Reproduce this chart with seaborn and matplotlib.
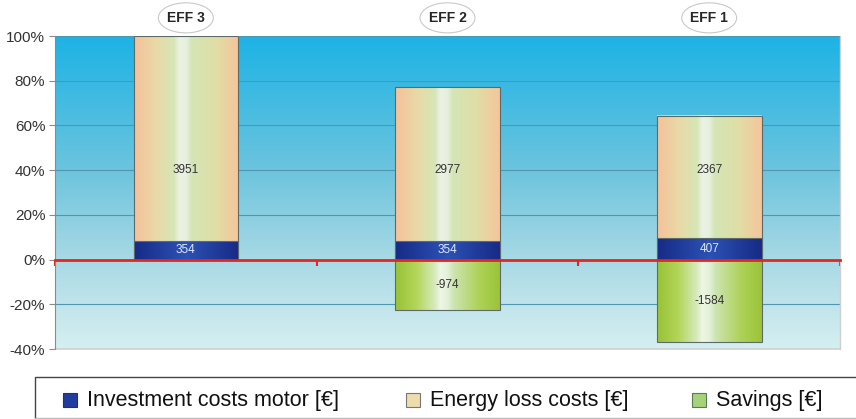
import numpy as np
import pandas as pd
import matplotlib
matplotlib.use("Agg")
import matplotlib.pyplot as plt
import matplotlib.transforms as mtransforms
import seaborn as sns
from matplotlib.colors import LinearSegmentedColormap
from matplotlib.patches import Ellipse, Rectangle
from matplotlib.ticker import FixedLocator

# Cost comparison of motor efficiency classes
categories = ["EFF 3", "EFF 2", "EFF 1"]
investment = [354, 354, 407]
energy_loss = [3951, 2977, 2367]
savings = [0, -974, -1584]
y_ticks = [-40, -20, 0, 20, 40, 60, 80, 100]
legend_labels = ["Investment costs motor [€]", "Energy loss costs [€]", "Savings [€]"]

# Everything is expressed relative to the total cost of the EFF 3 motor
reference_total = investment[0] + energy_loss[0]


def pct(values):
    return [100.0 * v / reference_total for v in values]


df = pd.DataFrame({
    "category": categories,
    "investment": pct(investment),
    "total": pct(np.add(investment, energy_loss)),
    "savings": pct(savings),
})

sns.set_theme(style="white")
plt.rcParams["font.family"] = ["Liberation Sans", "DejaVu Sans"]

W, H = 856, 419
fig = plt.figure(figsize=(W / 100, H / 100), dpi=100)
ax = fig.add_axes([55 / W, 70 / H, 785 / W, 313 / H])


def ramp(stops, n=256):
    cmap = LinearSegmentedColormap.from_list("r", stops)
    return cmap(np.linspace(0, 1, n))[:, :3]


fills = {
    "total": ramp([(0, "#f5c29a"), (0.22, "#e8daa8"), (0.38, "#d6e6b6"), (0.43, "#ebf2e4"),
                   (0.5, "#e7f0de"), (0.55, "#d4e5b6"), (0.78, "#e0dea6"), (1, "#f6c59b")]),
    "investment": ramp([(0, "#172a86"), (0.5, "#2c52b4"), (1, "#172a86")]),
    "savings": ramp([(0, "#98c236"), (0.2, "#b2d558"), (0.38, "#d6eabd"), (0.43, "#eef6e6"),
                     (0.5, "#e4f1d9"), (0.56, "#cde4b0"), (0.8, "#aed258"), (1, "#9ac438")]),
}
layer_z = {"total": 2, "investment": 3, "savings": 2}

BAR_W = 0.4
for col in ["total", "investment", "savings"]:
    n_before = len(ax.patches)
    sns.barplot(data=df, x="category", y=col, order=categories, width=BAR_W,
                color="white", errorbar=None, ax=ax)
    for rect in ax.patches[n_before:]:
        h = rect.get_height()
        if h == 0:
            rect.set_visible(False)
            continue
        x0, w, y0 = rect.get_x(), rect.get_width(), rect.get_y()
        lo, hi = min(y0, y0 + h), max(y0, y0 + h)
        z = layer_z[col]
        ax.imshow(fills[col][np.newaxis, :, :], extent=[x0, x0 + w, lo, hi],
                  aspect="auto", interpolation="bilinear", zorder=z)
        rect.set_facecolor("none")
        rect.set_edgecolor("#5e6a6a")
        rect.set_linewidth(0.8)
        rect.set_zorder(z + 0.1)

# Sky-like background of the plot area
bg = ramp([(0, "#d6eff1"), (0.286, "#a8d9e5"), (0.571, "#6cc4de"), (1, "#1cb3e5")])
ax.imshow(bg[:, np.newaxis, :], extent=[-0.5, 2.5, -40, 100], origin="lower",
          aspect="auto", interpolation="bilinear", zorder=0)
ax.set_xlim(-0.5, 2.5)
ax.set_ylim(-40, 100)

ax.set_axisbelow(True)
ax.yaxis.grid(True, color="#4f97ae", lw=0.8, zorder=0.5)
ax.xaxis.grid(False)

ax.set_yticks(y_ticks)
ax.set_yticklabels([f"{t}%" for t in y_ticks])
ax.tick_params(axis="y", length=4, width=0.8, color="#8a8a8a", labelsize=11,
               labelcolor="#333333", pad=3, left=True)
ax.set_xlabel("")
ax.set_ylabel("")

# Red zero line with category separators
red = "#e5261e"
ax.spines["bottom"].set_position(("data", 0))
ax.spines["bottom"].set_color(red)
ax.spines["bottom"].set_linewidth(2)
ax.spines["bottom"].set_zorder(4)
ax.xaxis.set_minor_locator(FixedLocator([-0.5, 0.5, 1.5, 2.5]))
ax.tick_params(axis="x", which="major", length=0, labelbottom=False)
ax.tick_params(axis="x", which="minor", length=4, width=1.5, color=red,
               direction="out", bottom=True)
ax.spines["left"].set_color("#8a8a8a")
ax.spines["left"].set_linewidth(0.8)
ax.spines["top"].set_visible(False)
ax.spines["right"].set_color("#cfcfcf")
ax.spines["right"].set_linewidth(1)
ax.plot([0, 1], [0, 0], transform=ax.transAxes, color="#cfcfcf", lw=1.2,
        clip_on=False, zorder=1)

# Value labels
for i in range(len(categories)):
    ax.text(i, 40, f"{energy_loss[i]}", ha="center", va="center", fontsize=8.5,
            color="#333333", zorder=5)
    ax.text(i, df["investment"][i] / 2, f"{investment[i]}", ha="center", va="center",
            fontsize=8.5, color="#dfe8ff", zorder=5)
    if savings[i] != 0:
        ax.text(i, df["savings"][i] / 2, f"{savings[i]}", ha="center", va="center",
                fontsize=8.5, color="#333333", zorder=5)

# Efficiency class badges above the bars
blend = mtransforms.blended_transform_factory(ax.transData, ax.transAxes)
for i, name in enumerate(categories):
    ax.add_patch(Ellipse((i, 1.058), width=0.21, height=0.096, transform=blend,
                         facecolor="white", edgecolor="#c9c9c9", lw=0.8, clip_on=False,
                         zorder=5))
    ax.text(i, 1.058, name, transform=blend, ha="center", va="center", fontsize=10,
            fontweight="bold", color="#262626", zorder=6, clip_on=False)

# Legend box below the chart (open to the right and bottom edges of the figure)
fig.add_artist(Rectangle((35 / W, -5 / H), 1.0, (H - 377 + 5) / H,
                         transform=fig.transFigure, fill=False,
                         edgecolor="#444444", lw=1))
fig.add_artist(plt.Line2D([35 / W, 1], [1.5 / H, 1.5 / H], transform=fig.transFigure,
                          color="#bdbdbd", lw=1))
legend_colors = ["#1f3c9e", "#ecdcae", "#a6d27a"]
legend_edges = ["#333333", "#777777", "#5a7a5a"]
legend_x = [63, 406, 692]
for x, lab, fc, ec in zip(legend_x, legend_labels, legend_colors, legend_edges):
    fig.add_artist(Rectangle((x / W, (H - 406.5) / H), 14 / W, 14 / H,
                             transform=fig.transFigure, facecolor=fc, edgecolor=ec,
                             lw=0.8))
    fig.text((x + 24) / W, (H - 406) / H, lab, ha="left", va="baseline",
             fontsize=15.5, color="#111111")

fig.savefig("out.png", dpi=100)
